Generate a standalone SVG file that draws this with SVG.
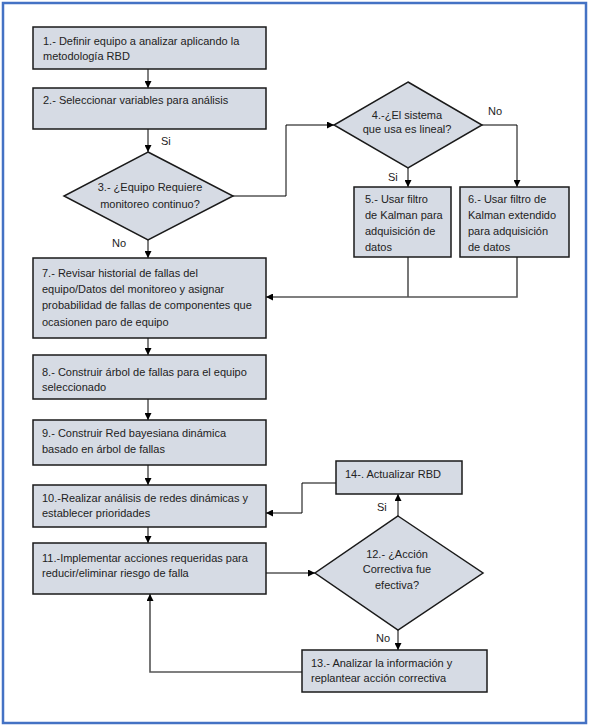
<svg xmlns="http://www.w3.org/2000/svg" width="591" height="728" viewBox="0 0 591 728">
<style>
.box{fill:#D6DBE4;stroke:#1a1a1a;stroke-width:1.5}
.t{font-family:"Liberation Sans",Arial,sans-serif;font-size:11px;fill:#222}
.m{text-anchor:middle}
.c{fill:none;stroke:#000;stroke-width:1}
.g{fill:none;stroke:#555;stroke-width:1.6}
</style>
<defs>
<marker id="ah" markerWidth="7" markerHeight="7" refX="7" refY="3.5" orient="auto" markerUnits="userSpaceOnUse">
<path d="M0,0 L7,3.5 L0,7 z" fill="#000"/>
</marker>
</defs>
<rect x="3" y="3" width="583" height="720" fill="#fff" stroke="#4472C4" stroke-width="2.5"/>
<g id="connectors">
<path class="c" d="M148,69 V88" marker-end="url(#ah)"/>
<path class="c" d="M148,129 V152" marker-end="url(#ah)"/>
<path class="c" d="M148,240 V258" marker-end="url(#ah)"/>
<path class="c" d="M233,196 H286 V125 H334" marker-end="url(#ah)"/>
<path class="c" d="M408,168 V187" marker-end="url(#ah)"/>
<path class="c" d="M482,125 H517 V187" marker-end="url(#ah)"/>
<path class="g" d="M408,257 V297"/>
<path class="g" d="M517,257 V297 H266" marker-end="url(#ah)"/>
<path class="c" d="M148,338 V355" marker-end="url(#ah)"/>
<path class="c" d="M148,399 V420" marker-end="url(#ah)"/>
<path class="c" d="M148,465 V485" marker-end="url(#ah)"/>
<path class="c" d="M148,527 V543" marker-end="url(#ah)"/>
<path class="c" d="M266,573 H315" marker-end="url(#ah)"/>
<path class="c" d="M398,516 V494" marker-end="url(#ah)"/>
<path class="c" d="M336,483 H302 V513 H266" marker-end="url(#ah)"/>
<path class="c" d="M398,630 V650" marker-end="url(#ah)"/>
<path class="g" d="M302,672 H150 V594" marker-end="url(#ah)"/>
<text class="t" x="161" y="145">Si</text>
<text class="t" x="112" y="247">No</text>
<text class="t" x="488" y="115">No</text>
<text class="t" x="388" y="181">Si</text>
<text class="t" x="377" y="511">Si</text>
<text class="t" x="376" y="642">No</text>
</g>
<g id="n1"><rect class="box" x="33" y="27" width="233" height="42"/>
<text class="t" x="43" y="45">1.- Definir equipo a analizar aplicando la</text>
<text class="t" x="43" y="60">metodología RBD</text></g>
<g id="n2"><rect class="box" x="33" y="88" width="233" height="41"/>
<text class="t" x="43" y="104">2.- Seleccionar variables para análisis</text></g>
<g id="n3"><polygon class="box" points="148,152 233,196 148,240 64,196"/>
<text class="t m" x="150" y="191">3.- ¿Equipo Requiere</text>
<text class="t m" x="150" y="207.5">monitoreo continuo?</text></g>
<g id="n4"><polygon class="box" points="408,82 482,125 408,168 334,125"/>
<text class="t m" x="407" y="118.5">4.-¿El sistema</text>
<text class="t m" x="407" y="133">que usa es lineal?</text></g>
<g id="n5"><rect class="box" x="354" y="187" width="97" height="70"/>
<text class="t" x="365" y="203">5.- Usar filtro</text>
<text class="t" x="365" y="219">de Kalman para</text>
<text class="t" x="365" y="235">adquisición de</text>
<text class="t" x="365" y="251">datos</text></g>
<g id="n6"><rect class="box" x="460" y="187" width="109" height="70"/>
<text class="t" x="468" y="203">6.- Usar filtro de</text>
<text class="t" x="468" y="219">Kalman extendido</text>
<text class="t" x="468" y="235">para adquisición</text>
<text class="t" x="468" y="251">de datos</text></g>
<g id="n7"><rect class="box" x="33" y="258" width="233" height="80"/>
<text class="t" x="42" y="277">7.- Revisar historial de fallas del</text>
<text class="t" x="42" y="293">equipo/Datos del monitoreo y asignar</text>
<text class="t" x="42" y="309">probabilidad de fallas de componentes que</text>
<text class="t" x="42" y="326">ocasionen paro de equipo</text></g>
<g id="n8"><rect class="box" x="33" y="355" width="233" height="44"/>
<text class="t" x="42" y="376">8.- Construir árbol de fallas para el equipo</text>
<text class="t" x="42" y="391">seleccionado</text></g>
<g id="n9"><rect class="box" x="33" y="420" width="233" height="45"/>
<text class="t" x="42" y="437">9.- Construir Red bayesiana dinámica</text>
<text class="t" x="42" y="453">basado en árbol de fallas</text></g>
<g id="n10"><rect class="box" x="33" y="485" width="233" height="42"/>
<text class="t" x="42" y="502">10.-Realizar análisis de redes dinámicas y</text>
<text class="t" x="42" y="517">establecer prioridades</text></g>
<g id="n11"><rect class="box" x="33" y="543" width="233" height="51"/>
<text class="t" x="42" y="562">11.-Implementar acciones requeridas para</text>
<text class="t" x="42" y="577">reducir/eliminar riesgo de falla</text></g>
<g id="n12"><polygon class="box" points="398,516 483,573 398,630 315,573"/>
<text class="t m" x="397" y="558">12.- ¿Acción</text>
<text class="t m" x="397" y="573">Correctiva fue</text>
<text class="t m" x="397" y="589">efectiva?</text></g>
<g id="n13"><rect class="box" x="302" y="650" width="185" height="42"/>
<text class="t" x="311" y="667">13.- Analizar la información y</text>
<text class="t" x="311" y="682">replantear acción correctiva</text></g>
<g id="n14"><rect class="box" x="336" y="461" width="126" height="33"/>
<text class="t" x="345" y="478">14-. Actualizar RBD</text></g>
</svg>
